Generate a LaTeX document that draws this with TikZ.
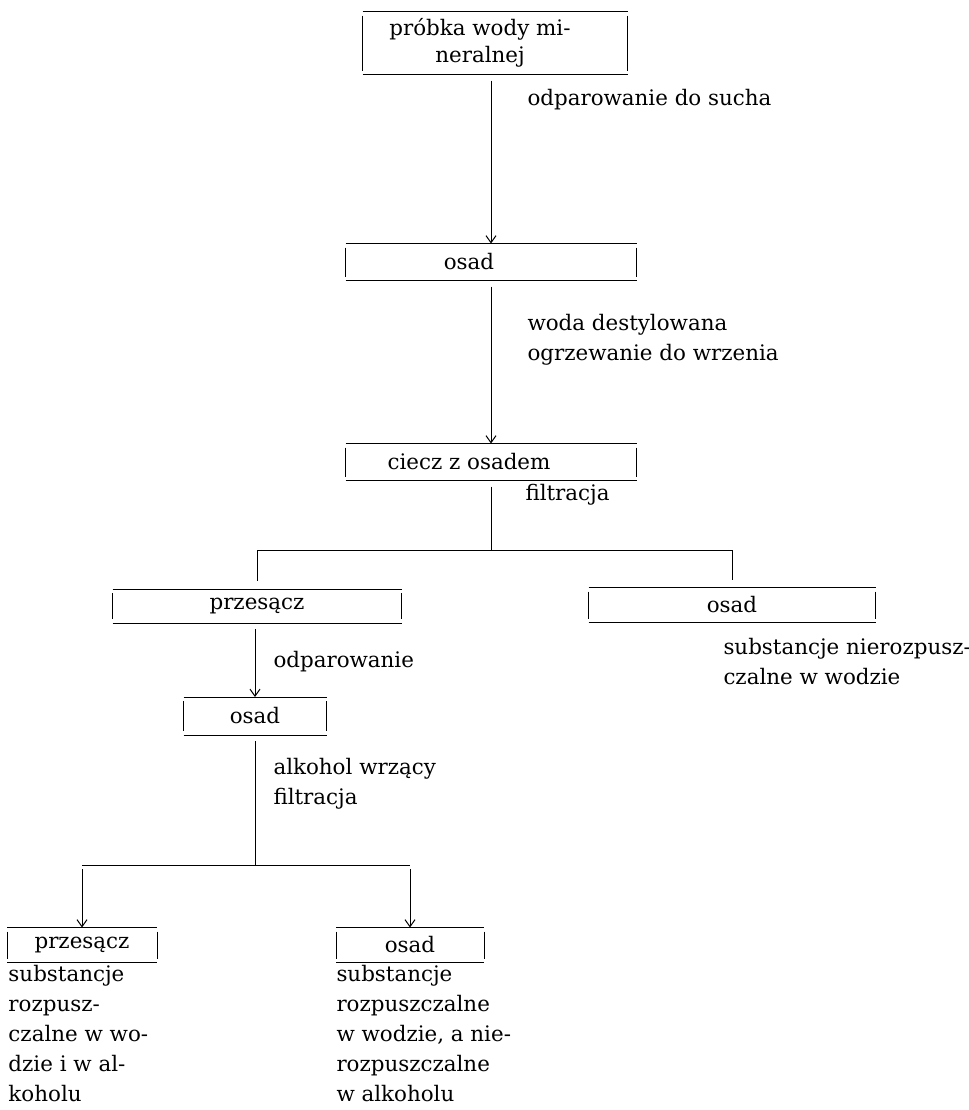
\documentclass[tikz,border=0pt]{standalone}
\usepackage{fontspec}
\setmainfont{DejaVu Serif}
\usetikzlibrary{arrows.meta,positioning}

\begin{document}
\begin{tikzpicture}[x=0.5pt,y=-0.5pt,line width=0.5pt,
    font=\fontsize{10.7}{15}\selectfont,
    stage/.style={inner sep=0pt,align=center,
        append after command={
            (\tikzlastnode.north west) edge[-] (\tikzlastnode.north east)
            (\tikzlastnode.south west) edge[-] (\tikzlastnode.south east)
            ([yshift=-2pt]\tikzlastnode.north west) edge[-] ([yshift=2pt]\tikzlastnode.south west)
            ([yshift=-2pt]\tikzlastnode.north east) edge[-] ([yshift=2pt]\tikzlastnode.south east)}},
    note/.style={anchor=west,inner sep=0pt,align=left},
    arr/.style={-{Straight Barb[length=3.5pt,width=5pt]}}]
    \useasboundingbox (0,0) rectangle (969,1110);
    \node[stage,minimum width=132pt,minimum height=31pt,font=\fontsize{10.7}{13.5}\selectfont] (probka) at (495,43) {próbka wody mi-\hspace*{15pt}\\neralnej\hspace*{15pt}};
    \node[stage,minimum width=145pt,minimum height=18pt] (osad1) at (491,262) {osad\hspace*{22pt}};
    \node[stage,minimum width=145pt,minimum height=18pt] (ciecz) at (491,462) {ciecz z osadem\hspace*{22pt}};
    \node[stage,minimum width=144pt,minimum height=16.5pt] (przes1) at (257,606) {przesącz};
    \node[stage,minimum width=143pt,minimum height=17pt] (osad2) at (732,605) {osad};
    \node[stage,minimum width=71pt,minimum height=18.5pt] (osad3) at (255,716) {osad};
    \node[stage,minimum width=74.5pt,minimum height=17pt] (przes2) at (82,945) {przesącz};
    \node[stage,minimum width=73.5pt,minimum height=17pt] (osad4) at (410,945) {osad};
    \coordinate (split1) at (493,550);
    \coordinate (split2) at (247,865);

    \draw[arr,shorten <=3pt] (osad1.north |- probka.south) -- (osad1.north);
    \draw[arr,shorten <=3pt] (osad1.south) -- (ciecz.north);
    \draw[shorten <=3pt] (ciecz.south) -- (ciecz.south |- split1);
    \draw (przes1.north |- split1) -- (osad2.north |- split1);
    \draw[shorten >=4pt] (przes1.north |- split1) -- (przes1.north);
    \draw[shorten >=4pt] (osad2.north |- split1) -- (osad2.north);
    \draw[arr,shorten <=3pt] (osad3.north |- przes1.south) -- (osad3.north);
    \draw[shorten <=3pt] (osad3.south) -- (osad3.south |- split2);
    \draw (przes2.north |- split2) -- (osad4.north |- split2);
    \draw[arr,shorten <=2pt] (przes2.north |- split2) -- (przes2.north);
    \draw[arr,shorten <=2pt] (osad4.north |- split2) -- (osad4.north);

    \node[note] (sucha) at (527,100) {odparowanie do sucha};
    \node[note] (woda) at (527,340) {woda destylowana\\ogrzewanie do wrzenia};
    \node[note] (filtr1) at (525,495) {filtracja};
    \node[note] (nierozp) at (723,662) {substancje nierozpusz-\\czalne w wodzie};
    \node[note] (odpar) at (273,662) {odparowanie};
    \node[note] (alkohol) at (273,784) {alkohol wrzący\\filtracja};
    \node[note] (rozp1) at (8,1034) {substancje\\rozpusz-\\czalne w wo-\\dzie i w al-\\koholu};
    \node[note] (rozp2) at (336,1034) {substancje\\rozpuszczalne\\w wodzie, a nie-\\rozpuszczalne\\w alkoholu};
\end{tikzpicture}
\end{document}
